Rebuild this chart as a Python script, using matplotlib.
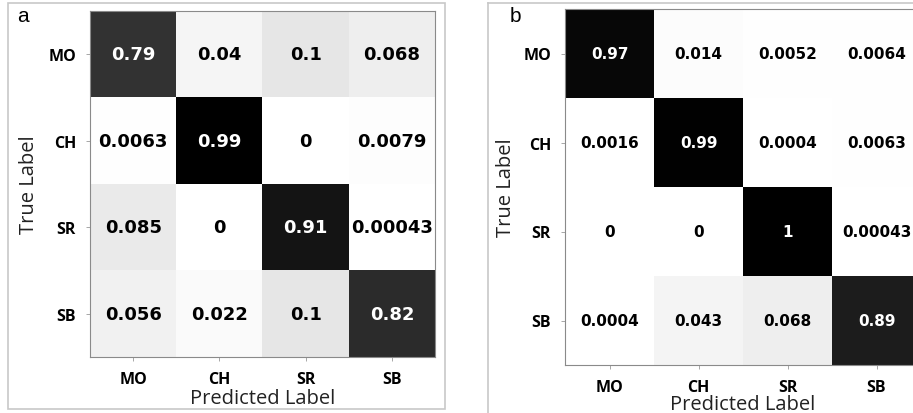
import numpy as np
import matplotlib
matplotlib.use("Agg")
import matplotlib.pyplot as plt
from matplotlib.patches import Rectangle
from matplotlib.lines import Line2D

classes = ["MO", "CH", "SR", "SB"]

# confusion matrices (rows = true, cols = predicted)
cm_a = [[0.79, 0.04, 0.1, 0.068],
        [0.0063, 0.99, 0, 0.0079],
        [0.085, 0, 0.91, 0.00043],
        [0.056, 0.022, 0.1, 0.82]]
cm_b = [[0.97, 0.014, 0.0052, 0.0064],
        [0.0016, 0.99, 0.0004, 0.0063],
        [0, 0, 1, 0.00043],
        [0.0004, 0.043, 0.068, 0.89]]
panel_names = ["a", "b"]

W, H = 913, 414
fig = plt.figure(figsize=(W / 100, H / 100), dpi=100)


def px_axes(x0, y0, x1, y1):
    # pixel box (top-left origin) -> figure axes
    return fig.add_axes([x0 / W, 1 - y1 / H, (x1 - x0) / W, (y1 - y0) / H])


def draw_cm(ax, cm, num_size, tick_size, ylab_pad, xlab_pad):
    cm = np.array(cm, dtype=float)
    vmax = cm.max()
    ax.imshow(cm, cmap="gray_r", vmin=0, vmax=vmax, interpolation="nearest", aspect="auto")
    for i in range(cm.shape[0]):
        for j in range(cm.shape[1]):
            v = cm[i, j]
            txt = "%g" % v
            ax.text(j, i, txt, ha="center", va="center", fontsize=num_size,
                    fontweight="bold", family="DejaVu Sans",
                    color="white" if v > vmax / 2 else "black")
    ax.set_xticks(range(len(classes)))
    ax.set_yticks(range(len(classes)))
    ax.set_xticklabels(classes, fontsize=tick_size, fontweight="bold", family="Open Sans")
    ax.set_yticklabels(classes, fontsize=tick_size, fontweight="bold", family="Open Sans")
    ax.tick_params(length=3, width=0.6, color="#999999", pad=7)
    for s in ax.spines.values():
        s.set_color("#8a8a8a")
        s.set_linewidth(0.8)
    ax.set_xlabel("Predicted Label", fontsize=14.5, family="Open Sans", labelpad=xlab_pad, color="#222222")
    ax.set_ylabel("True Label", fontsize=14.5, family="Open Sans", labelpad=ylab_pad, color="#222222")


# panel a
ax_a = px_axes(90, 12, 435, 358)
draw_cm(ax_a, cm_a, 13, 11.5, 7, 0.5)

# panel b (cut off on the right in the original)
ax_b = px_axes(565, 10, 921, 366)
draw_cm(ax_b, cm_b, 11, 11.5, 5, -0.5)

# panel frames
fr = "#c8c8c8"
fig.patches.append(Rectangle((8 / W, 1 - 410 / H), (445 - 8) / W, (410 - 4) / H,
                             transform=fig.transFigure, fill=False, edgecolor=fr, lw=1.2))
fig.lines.append(Line2D([488 / W, 488 / W], [0, 1 - 4 / H], transform=fig.transFigure, color=fr, lw=1.2))
fig.lines.append(Line2D([488 / W, 1], [1 - 4 / H, 1 - 4 / H], transform=fig.transFigure, color=fr, lw=1.2))

fig.text(23 / W, 1 - 16 / H, panel_names[0], fontsize=15, family="Liberation Sans", va="center", ha="center")
fig.text(515 / W, 1 - 17 / H, panel_names[1], fontsize=15, family="Liberation Sans", va="center", ha="center")

fig.savefig("out.png", dpi=100)
